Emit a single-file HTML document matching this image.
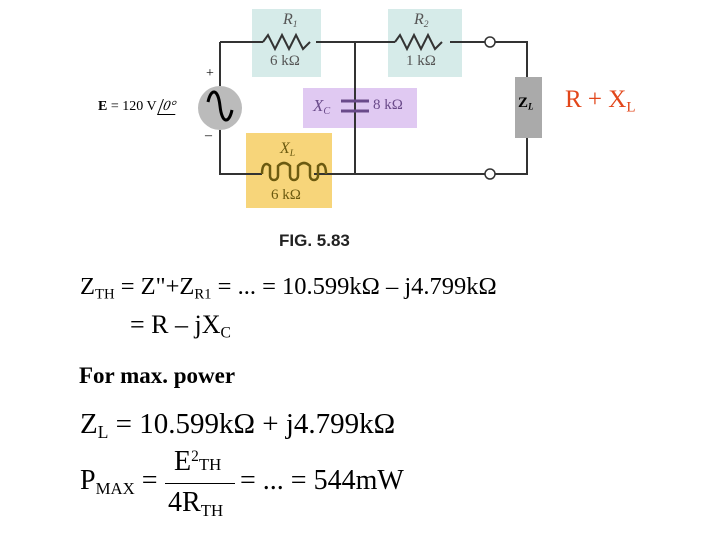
<!DOCTYPE html>
<html><head><meta charset="utf-8"><style>
body{margin:0;width:720px;height:540px;background:#fff;position:relative;overflow:hidden;font-family:"Liberation Serif",serif}
.t{position:absolute;white-space:nowrap;color:#000}
sub{font-size:60%;vertical-align:-0.3em}
</style></head><body>
<svg width="720" height="540" style="position:absolute;left:0;top:0">
<rect x="252" y="9" width="69" height="68" fill="#d6ebe9"/>
<rect x="388" y="9" width="74" height="68" fill="#d6ebe9"/>
<rect x="303" y="88" width="114" height="40" fill="#e0c9f2"/>
<rect x="246" y="133" width="86" height="75" fill="#f7d57a"/>
<g stroke="#333" stroke-width="2" fill="none">
<path d="M220 42H263M316 42H395M450 42H486M494 42H527V77M527 138V174H494M486 174H314M262 174H220V130M220 86V42"/>
<path d="M263 42l5-7 7 14 7-14 7 14 7-14 7 14 7-7"/>
<path d="M395 42l5-7 7 14 7-14 7 14 7-14 7 14 7-7"/>
<path d="M355 42V174"/>
</g>
<path d="M341 101H369M341 111H369" stroke="#6a4a8a" stroke-width="3"/>
<path d="M262 174c0-10 4-12 8-8v10a4 4 0 0 0 8 0v-10c4-4 8-4 12 0v10a4 4 0 0 0 8 0v-10c4-4 8-4 12 0v10a4 4 0 0 0 8 0v-10c4-4 8-2 8 8" stroke="#6b5a10" stroke-width="2.5" fill="none"/>
<circle cx="490" cy="42" r="5" fill="#fff" stroke="#333" stroke-width="1.5"/>
<circle cx="490" cy="174" r="5" fill="#fff" stroke="#333" stroke-width="1.5"/>
<circle cx="220" cy="108" r="22" fill="#bbb"/>
<path d="M208 102c3-14 10-14 12 4s9 18 12 4" stroke="#000" stroke-width="3" fill="none"/>
<rect x="515" y="77" width="27" height="61" fill="#aaa"/>
</svg>
<div class="t" style="left:206px;top:66px;font-size:14px">+</div>
<div class="t" style="left:205px;top:128px;font-size:14px">–</div>
<div class="t" style="left:98px;top:99px;font-size:14px"><b>E</b> = 120 V <span style="display:inline-block;border-left:1px solid #000;border-bottom:1px solid #000;transform:skewX(-20deg);padding:0 2px;line-height:15px">0°</span></div>
<div class="t" style="left:283px;top:11px;font-size:16px;color:#555;font-style:italic">R<sub>1</sub></div>
<div class="t" style="left:270px;top:53px;font-size:15px;color:#555">6 kΩ</div>
<div class="t" style="left:414px;top:11px;font-size:16px;color:#555;font-style:italic">R<sub>2</sub></div>
<div class="t" style="left:406px;top:53px;font-size:15px;color:#555">1 kΩ</div>
<div class="t" style="left:313px;top:96px;font-size:17px;color:#6a4a8a;font-style:italic">X<sub>C</sub></div>
<div class="t" style="left:373px;top:97px;font-size:15px;color:#6a4a8a">8 kΩ</div>
<div class="t" style="left:280px;top:140px;font-size:16px;color:#6b5a10;font-style:italic">X<sub>L</sub></div>
<div class="t" style="left:271px;top:187px;font-size:15px;color:#6b5a10">6 kΩ</div>
<div class="t" style="left:518px;top:95px;font-size:15px;font-weight:bold">Z<sub style="font-style:italic">L</sub></div>
<div class="t" style="left:279px;top:231px;font-size:17px;font-weight:bold;font-family:'Liberation Sans',sans-serif;color:#222">FIG. 5.83</div>
<div class="t" style="left:565px;top:86px;font-size:25px;color:#e2461a">R + X<sub>L</sub></div>
<div class="t" style="left:80px;top:273px;font-size:24.5px">Z<sub>TH</sub> = Z"+Z<sub>R1</sub> = ... = 10.599kΩ – j4.799kΩ</div>
<div class="t" style="left:130px;top:310px;font-size:26px">= R – jX<sub>C</sub></div>
<div class="t" style="left:79px;top:363px;font-size:23px;font-weight:bold">For max. power</div>
<div class="t" style="left:80px;top:408px;font-size:29px">Z<sub>L</sub> = 10.599kΩ + j4.799kΩ</div>
<div class="t" style="left:80px;top:465px;font-size:28px">P<sub>MAX</sub> =</div>
<div class="t" style="left:174px;top:446px;font-size:28px">E<sup style="font-size:55%;vertical-align:0.6em">2</sup><span style="font-size:60%">TH</span></div>
<div style="position:absolute;left:165px;top:483px;width:70px;height:1px;background:#000"></div>
<div class="t" style="left:168px;top:487px;font-size:28px">4R<sub style="font-size:60%">TH</sub></div>
<div class="t" style="left:240px;top:465px;font-size:28px">= ... = 544mW</div>
</body></html>
